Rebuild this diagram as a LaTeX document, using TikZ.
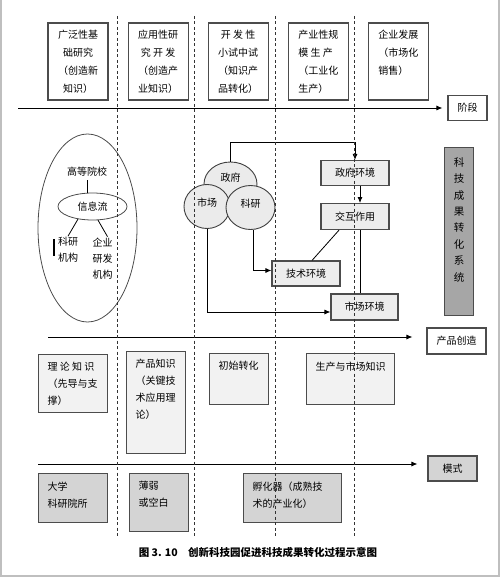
\documentclass[tikz,border=0pt]{standalone}
\usepackage{fontspec}
\setmainfont{Noto Sans CJK SC}
\usetikzlibrary{arrows.meta, positioning, shapes.geometric, calc}

\begin{document}
\begin{tikzpicture}[
  x=1pt, y=-1pt,
  font=\fontsize{10}{16}\selectfont,
  flow/.style={-{Latex[length=6pt, width=5pt]}, line width=0.9pt},
  wire/.style={line width=0.8pt},
  sep/.style={black!80, line width=0.9pt, dash pattern=on 3pt off 2.5pt},
  stagebox/.style={rectangle, draw=black!70, line width=1.1pt, fill=white, minimum width=60pt, minimum height=77pt, inner sep=2pt, font=\fontsize{10}{18}\selectfont},
  tagbox/.style={rectangle, draw=black!70, line width=1.1pt, fill=white, minimum height=25pt, inner sep=2pt},
  envbox/.style={rectangle, draw=black!70, line width=1.1pt, fill=black!7, minimum width=68pt, minimum height=25pt, inner sep=2pt},
  knowbox/.style={rectangle, draw=black!70, line width=1.1pt, fill=black!5, anchor=north west, inner xsep=9pt, inner ysep=8pt, font=\fontsize{10}{17}\selectfont},
  modebox/.style={knowbox, fill=black!17},
  actor/.style={ellipse, draw=black!75, line width=0.9pt, fill=black!8, inner sep=0pt}
]
\useasboundingbox (0,0) rectangle (500,577);

% stages
\node[stagebox, align=center] (basic) at (78,61.5) {广泛性基\\础研究\\（创造新\\知识）};
\node[stagebox, align=center, right=19pt of basic] (applied) {应用性研\\究 开 发\\（创造产\\业知识）};
\node[stagebox, align=center, right=19pt of applied] (pilot) {开 发 性\\小试中试\\（知识产\\品转化）};
\node[stagebox, align=left, right=19pt of pilot] (mass) {产业性规\\模 生 产\\（工业化\\生产）};
\node[stagebox, align=left, right=19pt of mass] (market) {企业发展\\（市场化\\销售）\\\mbox{}};
\node[tagbox, minimum width=39pt] (stage) at (467.5,108) {阶段};
\coordinate (s0) at (18,108);
\draw[flow, shorten >=5pt] (s0) -- (stage);

% university side
\node[ellipse, draw=black!70, line width=0.8pt, minimum width=99pt, minimum height=188pt, inner sep=0pt] (campus) at (87.5,228) {};
\node (gdyx) at (87,172) {高等院校};
\node[ellipse, draw=black!70, line width=0.8pt, minimum width=69pt, minimum height=27pt] (xxl) at (92.5,206.5) {信息流};
\node[align=left, inner sep=1pt] (kyjg) at (68,250) {科研\\机构};
\node[align=left, inner sep=1pt] (qyyf) at (102.5,258.5) {企业\\研发\\机构};
\draw[wire] (gdyx.south) -- (gdyx.south |- xxl.north);
\draw[wire] (xxl.221) -- (kyjg.north);
\draw[wire] (xxl.292) -- ([xshift=5pt]qyyf.north);
\draw[line width=2pt] ($(kyjg.north west)+(-3,3)$) -- ($(kyjg.west)+(-3,6)$);

% actors
\node[actor, minimum width=53pt, minimum height=44pt, text depth=14pt] (zf) at (230.5,184) {政府};
\node[actor, minimum width=46pt, minimum height=44pt, text depth=8pt] (sc) at (207,206.5) {市场};
\node[actor, minimum width=49pt, minimum height=44pt, text depth=8pt] (ky) at (250.5,207.5) {科研};

% environments
\node[envbox] (zfhj) at (355,173) {政府环境};
\node[envbox, minimum height=26pt, below=17pt of zfhj] (hzzy) {交互作用};
\node[envbox] (jshj) at (306,273.5) {技术环境};
\node[envbox, minimum width=67pt, minimum height=26pt] (scsh) at (364.5,307) {市场环境};
\draw[flow] (zf.north) -- ++(0,-19) -| (zfhj.north);
\draw[flow] ([xshift=5pt]zfhj.south) -- ([xshift=5pt]hzzy.north);
\draw[wire] ([xshift=5pt]hzzy.south) -- ([xshift=5pt]hzzy.south |- scsh.north);
\draw[wire] ([xshift=-16pt]hzzy.south) -- ([xshift=6pt]jshj.north);
\draw[flow] ([xshift=2.5pt]ky.south) |- ([yshift=3pt]jshj.west);
\draw[flow] (sc.south) |- ([yshift=-5pt]scsh.west);

\node[rectangle, draw=black!70, line width=1.1pt, fill=black!35, anchor=north west, inner xsep=9pt, inner ysep=10pt] (kjxt) at (444,147) {\parbox[c][148pt][t]{11pt}{\centering\fontsize{10.5}{16.4}\selectfont 科\\技\\成\\果\\转\\化\\系\\统}};

% product creation
\node[tagbox, minimum width=59pt, minimum height=26pt] (cpcz) at (456.5,341) {产品创造};
\coordinate (p0) at (48,337);
\draw[flow, shorten >=14pt] (p0) -- (p0 -| cpcz.west);
\node[knowbox] (llzs) at (38,354) {\parbox[c][42pt][t]{51pt}{理 论 知 识\\（先导与支\\撑）}};
\node[knowbox] (cpzs) at (126,351) {\parbox[c][86pt][t]{41pt}{产品知识\\（关键技\\术应用理\\论）}};
\node[knowbox] (cszh) at (209,353) {\parbox[c][35pt][t]{41pt}{初始转化}};
\node[knowbox] (scsczs) at (306,353) {\parbox[c][35pt][t]{70pt}{生产与市场知识}};

% mode
\node[tagbox, fill=black!17, minimum width=49pt] (ms) at (452.5,468.5) {模式};
\coordinate (m0) at (38,464);
\draw[flow, shorten >=10pt] (m0) -- (m0 -| ms.west);
\node[modebox] (dxky) at (38,473) {\parbox[c][33pt][t]{51pt}{大学\\科研院所}};
\node[modebox] (bbkb) at (129,473) {\parbox[c][42pt][t]{41pt}{薄弱\\或空白}};
\node[modebox] (fhq) at (243,473) {\parbox[c][33pt][t]{80pt}{孵化器（成熟技\\术的产业化）}};

% phase separators
\foreach \x in {117,194,275,354}
  \draw[sep] (\x,16) -- (\x,538);

\node[font=\bfseries\fontsize{10.5}{12}\selectfont] (caption) at (258,552) {图 3. 10\quad 创新科技园促进科技成果转化过程示意图};
\draw[black!25, line width=2pt] (1,0) -- (1,576) -- (499,576) -- (499,0);
\end{tikzpicture}
\end{document}
